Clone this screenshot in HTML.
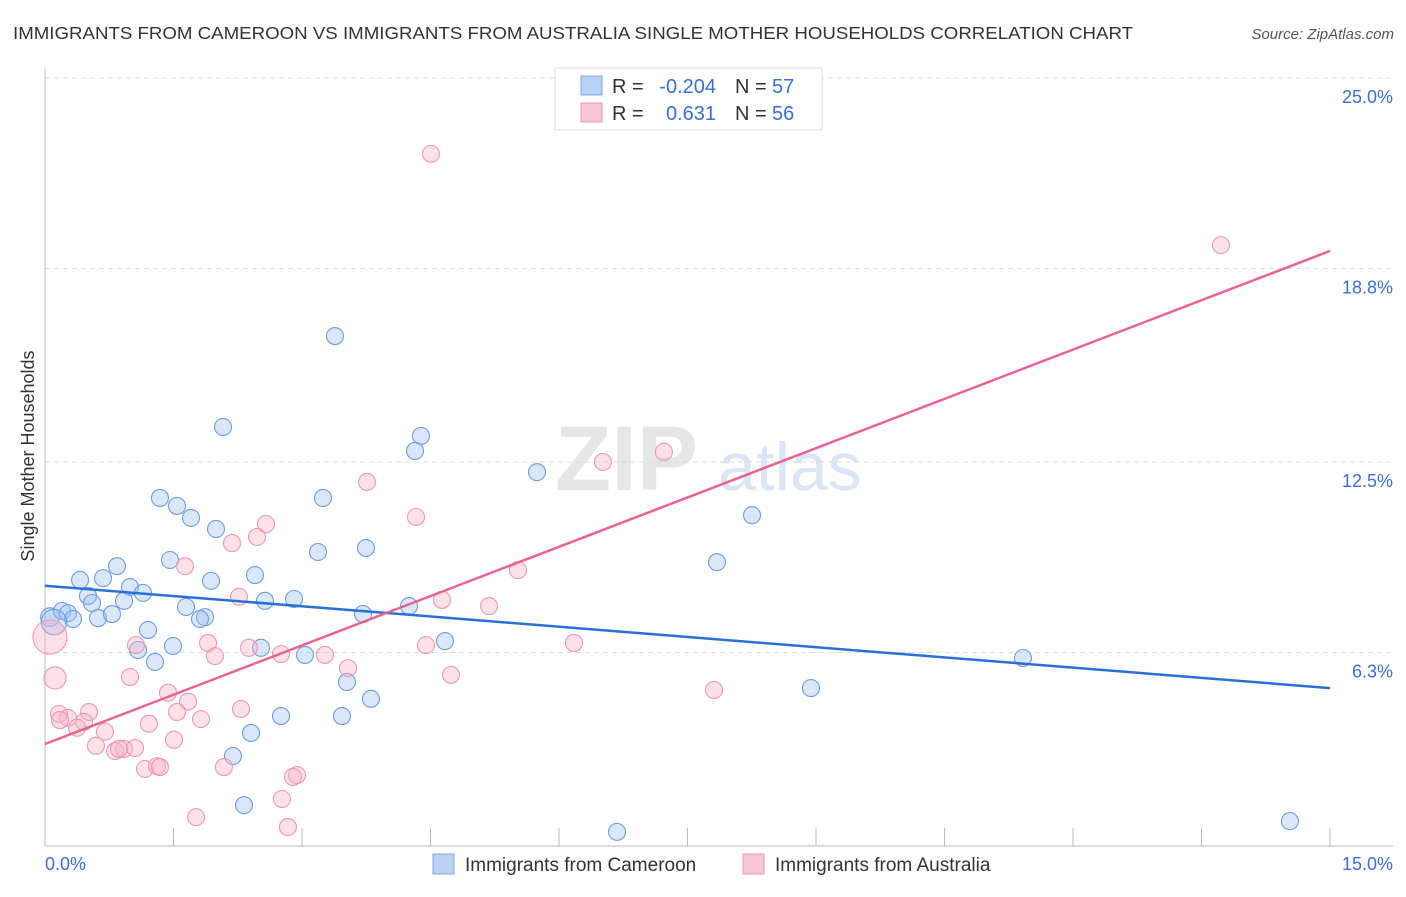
<!DOCTYPE html>
<html><head><meta charset="utf-8"><style>
body{margin:0;background:#fff;font-family:"Liberation Sans",sans-serif;}
svg text{font-family:"Liberation Sans",sans-serif;}
</style></head><body>
<svg id="chart" width="1406" height="892" xmlns="http://www.w3.org/2000/svg">
<text x="13" y="39" font-size="17.5" fill="#333" textLength="1120" lengthAdjust="spacingAndGlyphs">IMMIGRANTS FROM CAMEROON VS IMMIGRANTS FROM AUSTRALIA SINGLE MOTHER HOUSEHOLDS CORRELATION CHART</text>
<text x="1394" y="39" font-size="15" fill="#555" font-style="italic" text-anchor="end">Source: ZipAtlas.com</text>
<g><text x="555" y="490" font-size="92" fill="#e6e6e6" font-family="Liberation Serif" font-weight="bold">ZIP</text><text x="718" y="490" font-size="68" fill="#dae6f5">atlas</text></g>
<g id="grid"></g><g id="axes"></g><g id="blue"></g><g id="pink"></g><g id="lines"></g>
<text transform="translate(34,456) rotate(-90)" font-size="18" fill="#333" text-anchor="middle">Single Mother Households</text>
<text x="45" y="870" font-size="18" fill="#3b6fd1">0.0%</text>
<text x="1393" y="870" font-size="18" fill="#3b6fd1" text-anchor="end">15.0%</text>
<g>
<rect x="555" y="68" width="267" height="62" fill="#fff" stroke="#ddd"/>
<rect x="581" y="76" width="21" height="19" fill="#b9d2f3" stroke="#7fa8e6"/>
<rect x="581" y="103" width="21" height="19" fill="#f9c7d6" stroke="#ee9ab4"/>
<text x="612" y="93" font-size="20" fill="#333">R =</text><text x="716" y="93" font-size="20" fill="#3b6fd1" text-anchor="end">-0.204</text>
<text x="735" y="93" font-size="20" fill="#333">N =</text><text x="772" y="93" font-size="20" fill="#3b6fd1">57</text>
<text x="612" y="120" font-size="20" fill="#333">R =</text><text x="716" y="120" font-size="20" fill="#3b6fd1" text-anchor="end">0.631</text>
<text x="735" y="120" font-size="20" fill="#333">N =</text><text x="772" y="120" font-size="20" fill="#3b6fd1">56</text>
</g>
<g>
<rect x="433" y="854" width="21" height="20" fill="#b9d2f3" stroke="#7fa8e6"/>
<text x="465" y="871" font-size="19" fill="#333">Immigrants from Cameroon</text>
<rect x="743" y="854" width="21" height="20" fill="#f9c7d6" stroke="#ee9ab4"/>
<text x="775" y="871" font-size="19" fill="#333">Immigrants from Australia</text>
</g>
</svg>
<script>
const yTicks=[25.0,18.8,12.5,6.3];
const yTickLabels=["25.0%","18.8%","12.5%","6.3%"];
const xTicks=[0,1.5,3,4.5,6,7.5,9,10.5,12,13.5,15];
const blueX=[3.385,2.078,4.389,4.319,5.743,1.342,1.541,3.245,1.704,1.996,8.253,3.187,3.747,1.459,0.840,7.844,0.409,0.677,1.938,2.451,0.992,1.144,0.502,0.549,0.922,2.568,2.907,1.646,4.249,0.058,0.198,0.268,0.327,0.619,0.782,1.868,1.809,1.202,0.105,3.712,4.669,1.494,1.086,2.521,3.035,1.284,11.416,3.525,8.941,3.805,2.755,3.467,2.405,2.194,2.323,6.677,14.532];
const blueY=[16.60,13.64,13.35,12.86,12.17,11.33,11.07,11.33,10.68,10.32,10.77,9.57,9.70,9.31,9.11,9.24,8.66,8.72,8.63,8.82,8.43,8.24,8.14,7.91,7.98,7.98,8.04,7.78,7.81,7.45,7.65,7.58,7.39,7.42,7.55,7.45,7.39,7.03,7.29,7.55,6.67,6.51,6.38,6.45,6.22,5.99,6.12,5.34,5.14,4.79,4.23,4.23,3.68,2.93,1.33,0.46,0.81];
const blueSize=[1,1,1,1,1,1,1,1,1,1,1,1,1,1,1,1,1,1,1,1,1,1,1,1,1,1,1,1,1,1.1,1,1,1,1,1,1,1,1,1.5,1,1,1,1,1,1,1,1,1,1,1,1,1,1,1,1,1,1];
const pinkX=[4.506,13.727,6.513,7.225,3.759,4.331,2.580,2.475,2.183,1.634,5.521,2.265,4.634,5.183,1.062,1.903,2.381,2.755,1.984,3.268,4.447,6.175,3.537,4.739,0.992,0.117,0.058,1.436,1.669,7.809,2.288,0.163,0.514,1.541,0.268,0.455,1.821,1.214,0.374,0.700,1.506,0.595,0.922,0.817,0.864,1.167,1.307,1.342,2.089,2.942,2.895,2.766,1.763,2.836,0.175,1.051];
const pinkY=[22.53,19.56,12.50,12.83,11.85,10.71,10.48,10.06,9.86,9.11,8.98,8.11,8.01,7.81,6.54,6.61,6.45,6.25,6.18,6.22,6.54,6.61,5.79,5.57,5.50,5.47,6.80,4.99,4.70,5.08,4.46,4.30,4.36,4.36,4.17,4.04,4.13,3.98,3.85,3.72,3.46,3.26,3.16,3.09,3.16,2.51,2.60,2.57,2.57,2.31,2.25,1.53,0.94,0.62,4.10,3.19];
const pinkSize=[1,1,1,1,1,1,1,1,1,1,1,1,1,1,1,1,1,1,1,1,1,1,1,1,1,1.3,2,1,1,1,1,1,1,1,1,1,1,1,1,1,1,1,1,1,1,1,1,1,1,1,1,1,1,1,1,1];
const blueTrend=[8.47,5.14];
const pinkTrend=[3.32,19.37];
const NS="http://www.w3.org/2000/svg";
const X0=45,X1=1330,XMAX=15,Y0=78,YTOP=25,PXPER=30.72;
const sx=v=>X0+v*(X1-X0)/XMAX;
const sy=v=>Y0+(YTOP-v)*PXPER;
function mk(tag,attrs,parent){const e=document.createElementNS(NS,tag);for(const k in attrs)e.setAttribute(k,attrs[k]);parent.appendChild(e);return e;}
const grid=document.getElementById('grid');
yTicks.forEach((t,i)=>{
 const l=mk('line',{x1:X0,x2:1393,y1:sy(t),y2:sy(t),stroke:'#dcdcdc','stroke-dasharray':'5,4'},grid);
 
 
 const tx=mk('text',{x:1393,y:sy(t)+25,'font-size':18,fill:'#3b6fd1','text-anchor':'end'},grid);
 tx.textContent=yTickLabels[i];
 
 
});
const axes=document.getElementById('axes');
const ya=mk('line',{x1:X0,x2:X0,y1:68,y2:846,stroke:'#bbb'},axes);


const xa=mk('line',{x1:X0,x2:1393,y1:846,y2:846,stroke:'#bbb'},axes);


xTicks.forEach(t=>{
 const l=mk('line',{x1:sx(t),x2:sx(t),y1:828,y2:846,stroke:'#bbb'},axes);
 
 
});
function dots(xs,ys,ss,g,fill,stroke,name){
 xs.forEach((x,i)=>{
  const c=mk('circle',{cx:sx(x),cy:sy(ys[i]),r:8.5*ss[i],fill:fill,stroke:stroke,'stroke-width':1.1},g);
  
  
 });
}
dots(blueX,blueY,blueSize,document.getElementById('blue'),'rgba(160,196,240,0.4)','#6b9de0','cameroon-point');
dots(pinkX,pinkY,pinkSize,document.getElementById('pink'),'rgba(248,180,200,0.4)','#ee97b2','australia-point');
const lines=document.getElementById('lines');
const bl=mk('line',{x1:sx(0),y1:sy(blueTrend[0]),x2:sx(15),y2:sy(blueTrend[1]),stroke:'#2a6fd6','stroke-width':2.5},lines);


const pl=mk('line',{x1:sx(0),y1:sy(pinkTrend[0]),x2:sx(15),y2:sy(pinkTrend[1]),stroke:'#e8648f','stroke-width':2.5},lines);


</script>
</body></html>
